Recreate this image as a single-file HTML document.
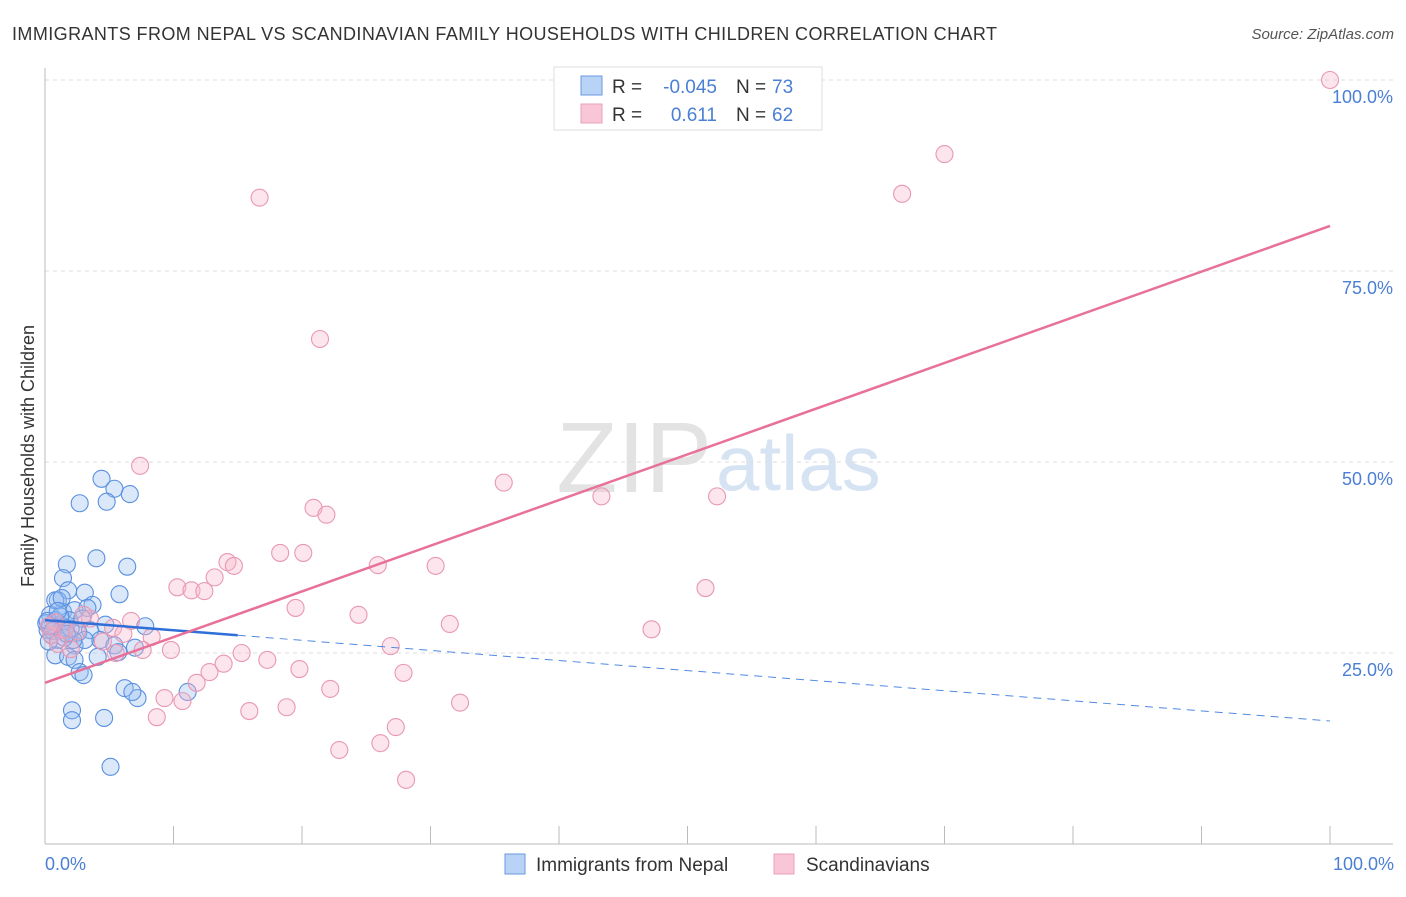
<!DOCTYPE html>
<html><head><meta charset="utf-8"><style>
body{margin:0;background:#fff;font-family:"Liberation Sans",sans-serif;}
svg text{font-family:"Liberation Sans",sans-serif;}
</style></head><body>
<svg id="chart" width="1406" height="892" xmlns="http://www.w3.org/2000/svg">
<text x="12" y="40" font-size="18" fill="#333" textLength="985">IMMIGRANTS FROM NEPAL VS SCANDINAVIAN FAMILY HOUSEHOLDS WITH CHILDREN CORRELATION CHART</text>
<text x="1394" y="39" font-size="15" fill="#555" text-anchor="end" font-style="italic">Source: ZipAtlas.com</text>
<text x="712" y="492" font-size="100" fill="#e3e3e3" text-anchor="end" font-family="Liberation Serif">ZIP</text>
<text x="716" y="490" font-size="78" fill="#d6e3f3">atlas</text>
<g id="grid"></g>
<g id="axes"></g>
<g id="marks"></g>
<g id="lines"></g>
<text transform="translate(34,456) rotate(-90)" font-size="18" fill="#333" text-anchor="middle">Family Households with Children</text>
<text x="45" y="870" font-size="18" fill="#4a7fd4">0.0%</text>
<text x="1394" y="870" font-size="18" fill="#4a7fd4" text-anchor="end">100.0%</text>
<g>
<rect x="554" y="67" width="268" height="63" fill="#fff" stroke="#ddd"/>
<rect x="581" y="76" width="21" height="19" fill="#b8d3f5" stroke="#6a9ae0"/>
<rect x="581" y="104" width="21" height="19" fill="#f8c6d6" stroke="#eaa0b8"/>
<text x="612" y="93" font-size="19" fill="#333">R = </text><text x="717" y="93" font-size="19" fill="#4a7fd4" text-anchor="end">-0.045</text>
<text x="736" y="93" font-size="19" fill="#333">N = </text><text x="772" y="93" font-size="19" fill="#4a7fd4">73</text>
<text x="612" y="121" font-size="19" fill="#333">R = </text><text x="717" y="121" font-size="19" fill="#4a7fd4" text-anchor="end">0.611</text>
<text x="736" y="121" font-size="19" fill="#333">N = </text><text x="772" y="121" font-size="19" fill="#4a7fd4">62</text>
</g>
<g>
<rect x="505" y="854" width="20" height="20" fill="#b8d3f5" stroke="#6a9ae0"/>
<text x="536" y="871" font-size="19" fill="#333">Immigrants from Nepal</text>
<rect x="774" y="854" width="20" height="20" fill="#f8c6d6" stroke="#eaa0b8"/>
<text x="806" y="871" font-size="19" fill="#333">Scandinavians</text>
</g>
</svg>
<script>
const yTicks=[25,50,75,100];
const yTickLabels=["25.0%","50.0%","75.0%","100.0%"];
const xTicks=[0,10,20,30,40,50,60,70,80,90,100];
const nepalX=[4.4,5.4,6.6,2.7,4.8,4.0,1.7,6.4,1.4,1.8,5.8,3.1,3.7,1.0,1.4,2.3,3.3,0.4,0.8,1.2,1.9,0.2,0.5,1.0,1.6,2.6,7.8,4.7,3.5,2.3,4.3,5.4,7.0,0.8,1.8,2.3,4.1,5.7,2.7,3.0,6.2,7.2,6.8,11.1,2.1,2.1,4.6,5.1,0.4,0.1,1.2,3.1,2.2,0.8,1.3,0.2,0.6,1.5,2.0,0.3,1.0,2.9,1.7];
const nepalY=[47.8,46.5,45.8,44.6,44.8,37.4,36.6,36.3,34.8,33.2,32.7,32.9,31.3,31.9,30.4,30.6,30.9,30.0,29.3,28.7,29.3,28.0,27.4,26.7,28.3,27.7,28.5,28.7,28.0,26.0,26.7,26.0,25.7,24.7,24.5,24.1,24.5,25.1,22.5,22.1,20.4,19.1,19.9,19.9,17.5,16.2,16.5,10.1,28.5,28.9,29.8,26.7,26.7,31.9,32.2,29.2,27.9,27.0,28.2,26.5,30.5,29.5,27.5];
const scandX=[100,70.0,66.7,16.7,21.4,7.4,35.7,43.3,52.3,20.9,21.9,18.3,20.1,14.2,14.7,25.9,30.4,13.2,10.3,11.4,12.4,51.4,19.5,24.4,31.5,47.2,6.7,5.3,8.3,6.1,26.9,7.6,9.8,15.3,17.3,19.8,12.8,13.9,27.9,11.8,22.2,9.3,10.7,32.3,18.8,15.9,8.7,27.3,26.1,22.9,28.1,0.5,1.0,1.5,2.5,0.8,3.5,4.5,2.0,0.3,3.0,5.5];
const scandY=[100,90.3,85.1,84.6,66.1,49.5,47.3,45.5,45.5,44.0,43.1,38.1,38.1,36.9,36.4,36.5,36.4,34.9,33.6,33.2,33.1,33.5,30.9,30.0,28.8,28.1,29.2,28.3,27.1,27.5,25.9,25.4,25.4,25.0,24.1,22.9,22.5,23.6,22.4,21.1,20.3,19.1,18.7,18.5,17.9,17.4,16.6,15.3,13.2,12.3,8.4,27.3,26.2,28.0,27.8,29.0,29.5,26.5,25.5,28.5,30.0,25.0];
const nepalTrend=[29.3,16.1];
const nepalSolidEnd=15;
const scandTrend=[21.1,80.9];

const NS="http://www.w3.org/2000/svg";
const X=v=>45+v*12.85;
const Y=v=>844-v*7.64;
function mk(tag,attrs,parent){const e=document.createElementNS(NS,tag);for(const k in attrs)e.setAttribute(k,attrs[k]);document.getElementById(parent).appendChild(e);return e;}
yTicks.forEach((t,i)=>{
 const g=mk('line',{x1:45,x2:1393,y1:Y(t),y2:Y(t),stroke:'#ddd','stroke-dasharray':'4,4'},'grid');
 
 
 const l=mk('text',{x:1393,y:Y(t)+23,'font-size':18,fill:'#4a7fd4','text-anchor':'end'},'grid');
 l.textContent=yTickLabels[i];
 
 
});
const ax=mk('line',{x1:45,x2:1393,y1:844,y2:844,stroke:'#bbb'},'axes');


const ay=mk('line',{x1:45,x2:45,y1:68,y2:844,stroke:'#bbb'},'axes');


xTicks.forEach(t=>{
 const k=mk('line',{x1:X(t),x2:X(t),y1:826,y2:844,stroke:'#bbb'},'axes');
 
 
});
nepalX.forEach((v,i)=>{
 const c=mk('circle',{cx:X(v),cy:Y(nepalY[i]),r:8.5,fill:'rgba(150,190,240,0.35)',stroke:'#5a90e0','stroke-width':1.1},'marks');
 
 
});
scandX.forEach((v,i)=>{
 const c=mk('circle',{cx:X(v),cy:Y(scandY[i]),r:8.5,fill:'rgba(245,180,200,0.35)',stroke:'#e898b2','stroke-width':1.1},'marks');
 
 
});
const nAt=x=>nepalTrend[0]+(nepalTrend[1]-nepalTrend[0])*x/100;
const l1=mk('line',{x1:X(0),y1:Y(nAt(0)),x2:X(nepalSolidEnd),y2:Y(nAt(nepalSolidEnd)),stroke:'#2f6fd8','stroke-width':2.5},'lines');


const l2=mk('line',{x1:X(nepalSolidEnd),y1:Y(nAt(nepalSolidEnd)),x2:X(100),y2:Y(nAt(100)),stroke:'#4f8ae0','stroke-width':1,'stroke-dasharray':'8,6'},'lines');


const l3=mk('line',{x1:X(0),y1:Y(scandTrend[0]),x2:X(100),y2:Y(scandTrend[1]),stroke:'#e8719a','stroke-width':2.5},'lines');


</script>
</body></html>
